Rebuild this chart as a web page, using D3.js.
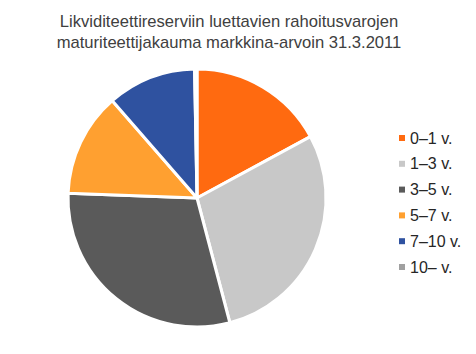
<!DOCTYPE html>
<html>
<head>
<meta charset="utf-8">
<script src="https://cdn.jsdelivr.net/npm/d3@7"></script>
<style>
  body { margin: 0; background: #fff; }
  svg { display: block; font-family: "Liberation Sans", Arial, sans-serif; }
</style>
</head>
<body>
<div id="chart"></div>
<script>
(function(){
  const titleLines = ["Likviditeettireserviin luettavien rahoitusvarojen", "maturiteettijakauma markkina-arvoin 31.3.2011"];
  const categories = ["0\u20131 v.", "1\u20133 v.", "3\u20135 v.", "5\u20137 v.", "7\u201310 v.", "10\u2013 v."];
  const values = [17.1, 28.8, 29.7, 13.0, 11.1, 0.3];
  const colors = ["#ff6a10", "#c8c8c8", "#5a5a5a", "#ffa030", "#2f52a0", "#a0a0a0"];

  const width = 476, height = 354;
  const cx = 197, cy = 198, radius = 129;

  const svg = d3.select("#chart").append("svg")
    .attr("width", width)
    .attr("height", height);

  // title
  svg.append("g").selectAll("text")
    .data(titleLines)
    .enter().append("text")
    .attr("x", 229)
    .attr("y", (d, i) => 27 + i * 20.5)
    .attr("text-anchor", "middle")
    .attr("font-size", 16.6)
    .attr("fill", "#404040")
    .text(d => d);

  const color = d3.scaleOrdinal().domain(categories).range(colors);

  const pie = d3.pie().sort(null).value(d => d.value);
  const arc = d3.arc().innerRadius(0).outerRadius(radius);

  const data = categories.map((c, i) => ({ name: c, value: values[i] }));

  svg.append("g")
    .attr("transform", `translate(${cx},${cy})`)
    .selectAll("path")
    .data(pie(data))
    .enter().append("path")
    .attr("d", arc)
    .attr("fill", d => color(d.data.name))
    .attr("stroke", "#fff")
    .attr("stroke-width", 3)
    .attr("stroke-linejoin", "round");

  // legend
  const legend = svg.append("g")
    .attr("transform", "translate(399,138)");

  const items = legend.selectAll("g")
    .data(categories)
    .enter().append("g")
    .attr("transform", (d, i) => `translate(0,${i * 25.8})`);

  items.append("rect")
    .attr("x", 0)
    .attr("y", -3)
    .attr("width", 6)
    .attr("height", 6)
    .attr("fill", d => color(d));

  items.append("text")
    .attr("x", 11)
    .attr("y", 5.5)
    .attr("font-size", 16)
    .attr("fill", "#262626")
    .text(d => d);
})();
</script>
</body>
</html>
